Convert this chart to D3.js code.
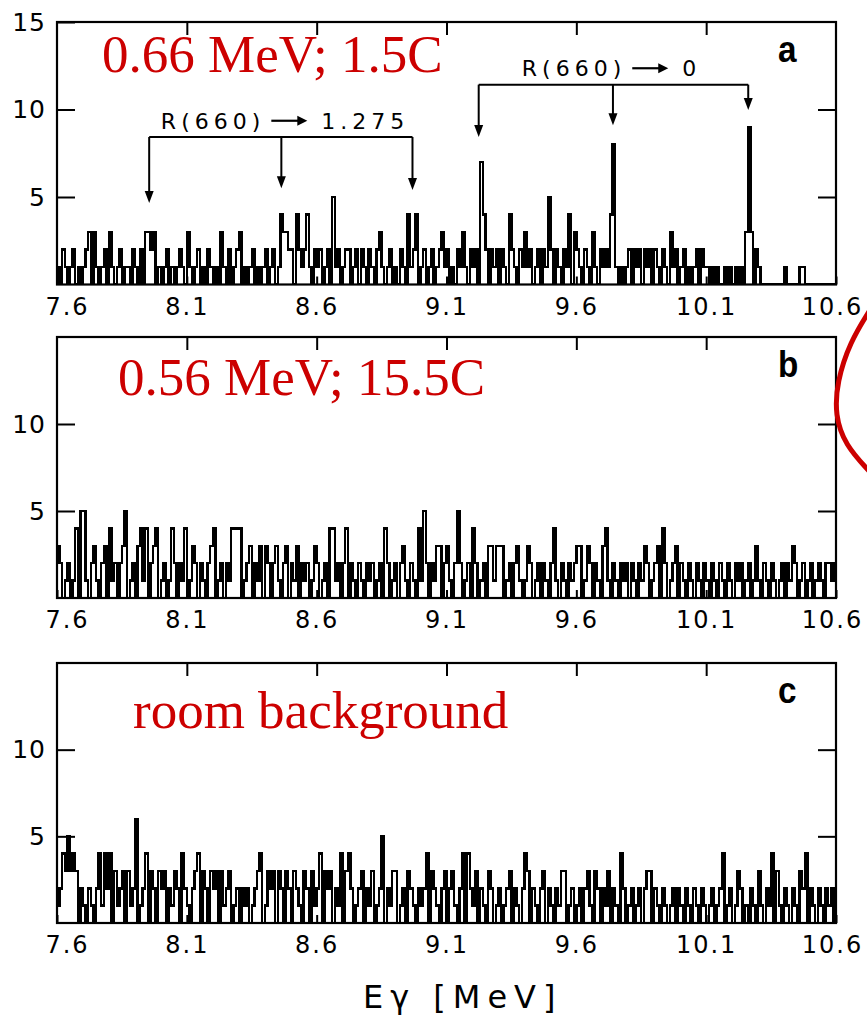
<!DOCTYPE html>
<html>
<head>
<meta charset="utf-8">
<script src="https://cdn.jsdelivr.net/npm/d3@7"></script>
<style>
  html, body { margin: 0; padding: 0; background: #fff; }
  svg { display: block; }
  .tick text { font-family: "DejaVu Sans", sans-serif; }
</style>
</head>
<body>
<svg id="chart" width="867" height="1019"></svg>
<script>
// Energy binning of the gamma spectra (MeV)
const energyMin = 7.6;
const energyMax = 10.6;
const binWidth = 0.01;

const xTickValues = [7.6, 8.1, 8.6, 9.1, 9.6, 10.1, 10.6];
const xTickLabels = ["7.6", "8.1", "8.6", "9.1", "9.6", "10.1", "10.6"];
const yTickValuesA = [5, 10, 15];
const yTickValuesBC = [5, 10];

// Counts per 10 keV channel, run at 0.66 MeV (1.5 C)
const countsA = [
  1,0,2,1,0,1,2,0,1,0, 1,2,3,0,3,1,0,1,2,0, 3,1,0,1,2,0,1,1,0,2, 1,0,2,0,3,3,2,3,0,1,
  0,1,2,0,1,0,1,2,1,0, 3,1,0,1,2,0,1,0,2,1, 0,1,0,3,1,0,2,0,1,2, 3,0,1,0,1,2,0,1,0,1,
  2,0,1,2,0,1,4,3,3,2, 2,0,4,2,1,2,4,1,0,2, 1,2,0,1,2,0,5,1,2,0, 1,2,2,0,1,2,0,2,1,0,
  2,1,0,2,3,1,0,1,2,0, 1,0,2,1,0,4,1,2,4,0, 1,2,0,1,2,0,1,2,3,1, 2,0,1,0,2,1,3,1,0,2,
  1,2,0,7,4,2,0,2,1,2, 0,2,1,0,4,2,1,0,2,1, 3,1,2,0,1,2,0,2,1,5, 2,0,2,1,0,2,1,4,0,3,
  2,1,0,2,1,0,3,1,0,2, 1,2,1,4,8,1,0,1,0,1, 2,0,2,1,2,0,2,1,2,0, 2,1,0,2,1,0,3,1,2,0,
  1,2,0,1,0,1,2,0,2,1, 1,0,1,0,1,0,0,1,0,1, 0,1,0,1,0,3,9,3,0,2, 1,0,0,0,0,0,0,0,0,0,
  1,0,0,0,0,0,1,1,0,0, 0,0,0,0,0,0,0,0,0,0
];

// Counts per 10 keV channel, run at 0.56 MeV (15.5 C)
const countsB = [
  3,2,0,1,2,0,1,4,0,5, 5,1,0,2,3,1,0,2,3,0, 4,1,2,0,2,3,5,0,1,2, 0,3,4,1,4,0,2,3,4,0,
  1,2,0,1,4,2,0,2,1,4, 0,1,3,2,0,2,1,0,2,3, 4,0,1,2,0,2,1,4,4,4, 4,0,1,2,3,0,2,1,3,0,
  3,2,0,2,3,1,0,2,3,0, 2,1,3,0,2,1,2,0,1,3, 2,0,1,2,0,4,4,1,2,0, 2,4,0,2,1,0,2,1,0,2,
  1,2,0,1,2,0,4,2,0,1, 2,0,2,3,1,0,2,1,0,4, 1,5,2,0,2,1,3,3,0,2, 3,1,0,2,5,2,0,1,2,0,
  4,2,0,1,2,0,3,3,1,3, 3,3,0,1,2,0,2,3,1,0, 1,3,2,0,1,2,0,2,1,0, 2,4,1,0,2,1,0,2,1,2,
  3,3,0,1,3,2,0,2,1,0, 3,4,1,0,2,1,0,2,1,2, 0,2,1,0,2,1,3,2,0,1, 2,3,0,4,2,0,1,2,3,0,
  2,1,0,2,1,0,2,1,0,2, 1,0,2,1,0,2,1,0,2,1, 0,2,1,2,0,1,2,0,1,3, 1,0,2,1,0,2,1,0,1,2,
  0,2,1,3,2,0,1,2,0,1, 2,0,1,2,1,0,2,2,1,2
];

// Counts per 10 keV channel, room background
const countsC = [
  1,2,4,3,5,3,4,3,0,2, 1,0,2,1,0,2,4,1,4,2, 4,0,3,1,2,3,0,3,1,2, 6,0,1,2,4,0,3,2,0,3,
  2,3,0,2,1,3,2,0,4,2, 1,0,2,3,4,0,3,2,0,3, 2,3,0,3,1,2,3,0,1,2, 0,2,1,2,0,1,2,3,4,0,
  1,3,2,3,0,3,2,0,3,2, 0,3,2,1,0,3,2,0,3,1, 2,4,0,3,2,3,0,2,1,4, 0,3,4,2,0,1,2,3,0,2,
  1,3,0,1,2,5,0,2,1,3, 3,0,1,2,0,3,2,1,0,2, 1,2,4,0,3,2,1,0,2,3, 0,2,3,1,0,2,4,0,4,2,
  1,3,0,2,1,0,3,2,0,1, 2,0,1,2,3,0,2,1,0,2, 4,3,0,2,1,0,2,3,0,2, 1,0,2,1,3,3,0,1,2,0,
  1,2,0,2,3,1,0,3,2,0, 2,1,3,0,2,1,0,4,2,0, 1,2,0,1,2,0,2,3,3,0, 2,1,0,2,1,0,1,2,0,2,
  1,0,2,1,0,2,1,0,2,1, 0,1,2,0,1,2,4,0,1,2, 0,1,3,2,0,1,0,2,1,0, 3,1,0,2,1,4,0,3,1,0,
  2,1,0,2,1,0,3,2,4,0, 2,1,0,2,1,0,2,1,2,0
];

// Resonance decay markers drawn over the 0.66 MeV spectrum
const markers = [
  { label: ["R(660)", "1.275"], bracketCount: 8.43, labelCount: 8.9, labelEnergy: 8.00,
    arrows: [ { energy: 7.955, tip: 4.66 }, { energy: 8.464, tip: 5.5 }, { energy: 8.969, tip: 5.4 } ] },
  { label: ["R(660)", "0"], bracketCount: 11.42, labelCount: 11.9, labelEnergy: 9.39,
    arrows: [ { energy: 9.224, tip: 8.43 }, { energy: 9.741, tip: 9.1 }, { energy: 10.262, tip: 9.97 } ] }
];

const panels = [
  { counts: countsA, top: 22, bottom: 284.5, letter: "a", title: "0.66 MeV; 1.5C", titleX: 102, titleY: 72, yTicks: yTickValuesA, markers: markers },
  { counts: countsB, top: 337, bottom: 598, letter: "b", title: "0.56 MeV; 15.5C", titleX: 118, titleY: 395, yTicks: yTickValuesBC, markers: [] },
  { counts: countsC, top: 663, bottom: 923, letter: "c", title: "room background", titleX: 133, titleY: 728, yTicks: yTickValuesBC, markers: [] }
];

const svg = d3.select("#chart");
svg.append("rect").attr("width", 867).attr("height", 1019).attr("fill", "#fff");

const plotLeft = 57, plotRight = 836;
const x = d3.scaleLinear().domain([energyMin, energyMax]).range([plotLeft, plotRight]);

panels.forEach((p, pi) => {
  const y = d3.scaleLinear().domain([0, 15]).range([p.bottom, p.top]);
  const g = svg.append("g");

  const clipId = "clip" + pi;
  g.append("clipPath").attr("id", clipId)
    .append("rect").attr("x", plotLeft).attr("y", p.top)
    .attr("width", plotRight - plotLeft).attr("height", p.bottom - p.top);

  // step histogram
  const pts = [[energyMin, 0]];
  p.counts.forEach((c, i) => pts.push([energyMin + i * binWidth, c]));
  pts.push([energyMin + p.counts.length * binWidth, p.counts[p.counts.length - 1]]);
  pts.push([energyMin + p.counts.length * binWidth, 0]);
  const line = d3.line().x(d => x(d[0])).y(d => y(d[1])).curve(d3.curveStepAfter);
  g.append("path")
    .attr("clip-path", `url(#${clipId})`)
    .attr("d", line(pts))
    .attr("fill", "none").attr("stroke", "#000").attr("stroke-width", 2.4)
    .attr("stroke-linejoin", "miter").attr("shape-rendering", "crispEdges");

  // axes with inward ticks
  const left = g.append("g").attr("transform", `translate(${plotLeft},0)`)
    .call(d3.axisLeft(y).tickValues(p.yTicks).tickSizeInner(-18).tickSizeOuter(0).tickPadding(11).tickFormat(d3.format("d")));
  const right = g.append("g").attr("transform", `translate(${plotRight},0)`)
    .call(d3.axisRight(y).tickValues([5, 10]).tickSizeInner(-18).tickSizeOuter(0).tickFormat(""));
  const top = g.append("g").attr("transform", `translate(0,${p.top})`)
    .call(d3.axisTop(x).tickValues(xTickValues.slice(1, -1)).tickSizeInner(-13).tickSizeOuter(0).tickFormat(""));
  const bottom = g.append("g").attr("transform", `translate(0,${p.bottom})`)
    .call(d3.axisBottom(x).tickValues(xTickValues).tickSizeInner(-8).tickSizeOuter(0).tickPadding(13)
      .tickFormat((d, i) => xTickLabels[i]));

  [left, right, top, bottom].forEach(a => {
    a.select(".domain").remove();
    a.selectAll(".tick line").attr("stroke", "#000").attr("stroke-width", 2);
    a.selectAll(".tick text").attr("fill", "#000").attr("font-size", 24).style("letter-spacing", "2px");
  });
  left.selectAll(".tick text").attr("font-size", 25).style("letter-spacing", "1px");
  bottom.selectAll(".tick text").filter((d, i) => i === 0).attr("dx", 10);
  bottom.selectAll(".tick text").filter((d, i) => i === xTickValues.length - 1).attr("dx", -4);

  // frame
  g.append("rect").attr("x", plotLeft).attr("y", p.top)
    .attr("width", plotRight - plotLeft).attr("height", p.bottom - p.top)
    .attr("fill", "none").attr("stroke", "#000").attr("stroke-width", 2.2);

  // panel letter
  g.append("text").attr("transform", `translate(778,${p.top + 40}) scale(0.9,1)`)
    .attr("font-family", "Liberation Sans, Arial, sans-serif").attr("font-weight", "bold")
    .attr("font-size", 37).attr("fill", "#000").text(p.letter);

  // red run label
  g.append("text").attr("x", p.titleX).attr("y", p.titleY)
    .attr("font-family", "Liberation Serif, Times New Roman, serif")
    .attr("font-size", 53).attr("fill", "#cc0000").text(p.title);

  // decay markers: "R(660) → final state" label, bracket and arrows
  p.markers.forEach(m => {
    const xs = m.arrows.map(a => x(a.energy));
    const by = y(m.bracketCount);
    const ly = y(m.labelCount);
    const lx = x(m.labelEnergy);
    const first = g.append("text").attr("x", lx).attr("y", ly)
      .attr("font-family", "DejaVu Sans, sans-serif").attr("font-size", 22)
      .style("letter-spacing", "5px").attr("fill", "#000").text(m.label[0]);
    const w1 = first.node().getComputedTextLength();
    const ax0 = lx + w1 + 6, ax1 = ax0 + 36, ay = ly - 8;
    g.append("line").attr("x1", ax0).attr("x2", ax1 - 6).attr("y1", ay).attr("y2", ay)
      .attr("stroke", "#000").attr("stroke-width", 2.2);
    g.append("path").attr("d", `M${ax1 - 10},${ay - 5} L${ax1},${ay} L${ax1 - 10},${ay + 5} Z`).attr("fill", "#000");
    g.append("text").attr("x", ax1 + 14).attr("y", ly)
      .attr("font-family", "DejaVu Sans, sans-serif").attr("font-size", 22)
      .style("letter-spacing", "5px").attr("fill", "#000").text(m.label[1]);

    g.append("line").attr("x1", d3.min(xs)).attr("x2", d3.max(xs)).attr("y1", by).attr("y2", by)
      .attr("stroke", "#000").attr("stroke-width", 2);
    m.arrows.forEach(a => {
      const ax = x(a.energy), ty = y(a.tip);
      g.append("line").attr("x1", ax).attr("x2", ax).attr("y1", by).attr("y2", ty - 6)
        .attr("stroke", "#000").attr("stroke-width", 2);
      g.append("path").attr("d", `M${ax - 4.5},${ty - 12} L${ax + 4.5},${ty - 12} L${ax},${ty} Z`)
        .attr("fill", "#000");
    });
  });
});

// axis title
svg.append("text").attr("x", 363).attr("y", 1008)
  .attr("font-family", "DejaVu Sans, sans-serif").attr("font-size", 32)
  .style("letter-spacing", "7px").attr("fill", "#000").text("E\u03b3 [MeV]");

// red hand-drawn emphasis curve at the right margin
const curvePts = [[870, 310], [850, 342], [837, 382], [835, 415], [845, 445], [870, 472]];
svg.append("path")
  .attr("d", d3.line().curve(d3.curveBasis)(curvePts))
  .attr("fill", "none").attr("stroke", "#cc0000").attr("stroke-width", 5);
</script>
</body>
</html>
